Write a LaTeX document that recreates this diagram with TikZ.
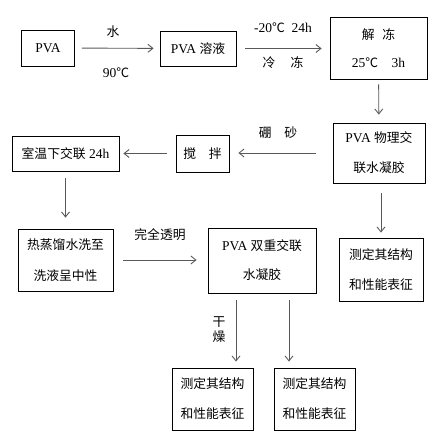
\documentclass[tikz,border=0pt]{standalone}
\usepackage{fontspec}
\setmainfont{Liberation Serif}
\newfontfamily\cjkf{Noto Sans CJK SC}
\newcommand{\cj}[1]{{\cjkf\fontsize{12.8}{12.8}\selectfont #1}}
\usetikzlibrary{arrows.meta}
\begin{document}
\begin{tikzpicture}[x=1pt,y=-1pt,
  box/.style={draw=black,line width=0.8pt,align=center,inner sep=0pt,
    font=\fontsize{13.5}{30}\selectfont},
  arr/.style={draw=black!65,line width=0.9pt,-{Straight Barb[length=5pt,width=8pt]}},
  lbl/.style={font=\fontsize{13.5}{15}\selectfont,inner sep=0pt}]
\useasboundingbox (0,0) rectangle (440,442);
% boxes
\node[box,minimum width=53pt,minimum height=36pt] (pva) at (48,48) {PVA};
\node[box,minimum width=76pt,minimum height=35pt] (sol) at (198,48.5) {PVA \cj{溶液}};
\node[box,minimum width=97pt,minimum height=62pt,font=\fontsize{13.5}{28}\selectfont] (thaw) at (378.5,48) {\cj{解\hspace{0.6em}冻}\\25\cj{℃}\hspace{1em}3h};
\node[box,minimum width=92pt,minimum height=60pt] (phys) at (379,153) {PVA \cj{物理交}\\\cj{联水凝胶}};
\node[box,minimum width=53pt,minimum height=37pt] (stir) at (202.5,153.5) {\cj{搅\hspace{1em}拌}};
\node[box,minimum width=107pt,minimum height=35pt] (rt) at (65.5,153.5) {\cj{室温下交联} 24h};
\node[box,minimum width=95pt,minimum height=62pt,font=\fontsize{13.5}{31}\selectfont] (wash) at (65.5,260) {\cj{热蒸馏水洗至}\\\cj{洗液呈中性}};
\node[box,minimum width=108pt,minimum height=65pt,font=\fontsize{13.5}{29}\selectfont] (dbl) at (262,260.5) {PVA \cj{双重交联}\\\cj{水凝胶}};
\node[box,minimum width=84pt,minimum height=63pt] (m1) at (381,269.5) {\cj{测定其结构}\\\cj{和性能表征}};
\node[box,minimum width=81pt,minimum height=62pt] (m2) at (212.5,399) {\cj{测定其结构}\\\cj{和性能表征}};
\node[box,minimum width=81pt,minimum height=62pt] (m3) at (314.5,399) {\cj{测定其结构}\\\cj{和性能表征}};
% arrows
\draw[arr,shorten <=7pt,shorten >=6pt] (pva) -- (sol);
\draw[arr,shorten <=9pt,shorten >=8pt] (sol.east) -- (sol.east -| thaw.west);
\draw[arr,shorten <=5pt,shorten >=8pt] (thaw) -- (phys);
\draw[arr,shorten <=17pt,shorten >=9pt] (phys.west) -- (phys.west -| stir.east);
\draw[arr,shorten <=9pt,shorten >=4pt] (stir.west) -- (stir.west -| rt.east);
\draw[arr,shorten <=7pt,shorten >=11pt] (rt) -- (wash);
\draw[arr,shorten <=10pt,shorten >=11pt] (wash.east) -- (wash.east -| dbl.west);
\draw[arr,shorten <=10pt,shorten >=5pt] (phys.south -| m1.north) -- (m1.north);
\coordinate (a1) at ([xshift=-26pt]dbl.south);
\coordinate (a2) at ([xshift=27pt]dbl.south);
\draw[arr,shorten <=7pt,shorten >=6pt] (a1) -- (a1 |- m2.north);
\draw[arr,shorten <=7pt,shorten >=6pt] (a2) -- (a2 |- m3.north);
% labels
\node[lbl] (l1) at (113,32) {\cj{水}};
\node[lbl] (l2) at (116,73) {90\cj{℃}};
\node[lbl] (l3) at (283,28) {-20\cj{℃}\hspace{0.5em}24h};
\node[lbl] (l4) at (283,63) {\cj{冷\hspace{1.2em}冻}};
\node[lbl] (l5) at (278,133) {\cj{硼\hspace{1em}砂}};
\node[lbl] (l6) at (160,235) {\cj{完全透明}};
\node[lbl] (l7) at (219,322) {\cj{干}};
\node[lbl] (l8) at (219,337) {\cj{燥}};
\end{tikzpicture}
\end{document}
